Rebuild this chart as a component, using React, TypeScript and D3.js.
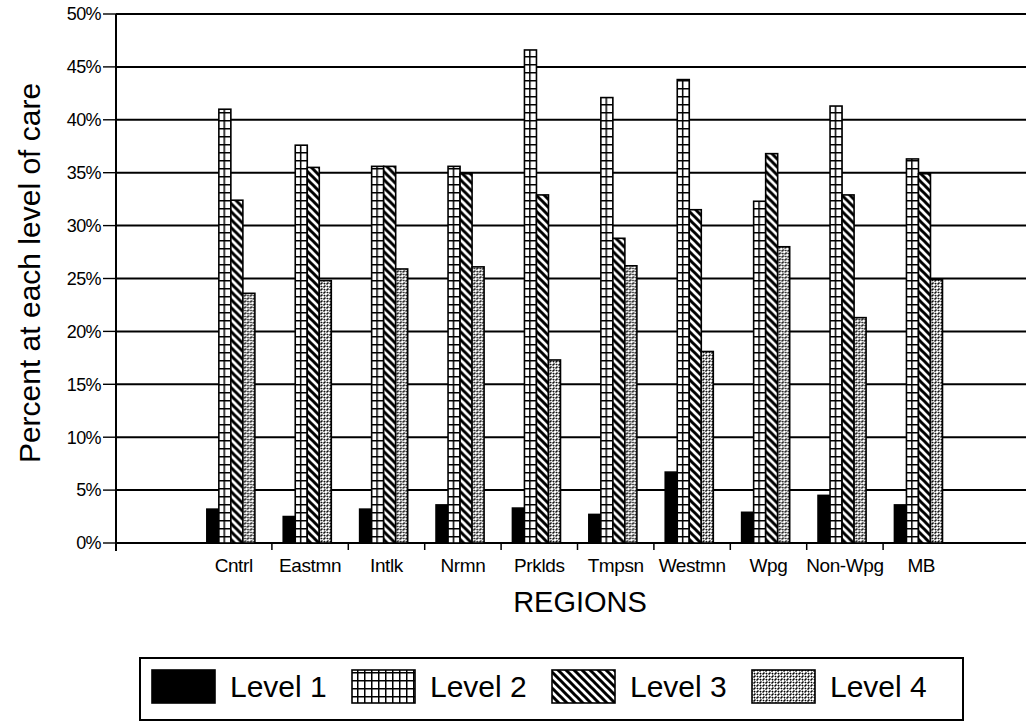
import * as d3 from 'd3'

const regions = ['Cntrl', 'Eastmn', 'Intlk', 'Nrmn', 'Prklds', 'Tmpsn', 'Westmn', 'Wpg', 'Non-Wpg', 'MB']
const levels = ['Level 1', 'Level 2', 'Level 3', 'Level 4']

const level1 = [3.2, 2.5, 3.2, 3.6, 3.3, 2.7, 6.7, 2.9, 4.5, 3.6]
const level2 = [41.0, 37.6, 35.6, 35.6, 46.6, 42.1, 43.8, 32.3, 41.3, 36.3]
const level3 = [32.4, 35.5, 35.6, 34.9, 32.9, 28.8, 31.5, 36.8, 32.9, 34.9]
const level4 = [23.6, 24.8, 25.9, 26.1, 17.3, 26.2, 18.1, 28.0, 21.3, 24.9]
const series = [level1, level2, level3, level4]

const yTicks = [0, 5, 10, 15, 20, 25, 30, 35, 40, 45, 50]

const W = 1026
const H = 723
const FONT = '"Liberation Sans", Arial, Helvetica, sans-serif'
const fills = ['#000', 'url(#p-grid)', 'url(#p-diag)', 'url(#p-dots)']

export default function App() {
  const y = d3.scaleLinear().domain([0, 50]).range([543, 14])
  const x = d3.scaleBand<string>().domain(regions).range([195.5, 959.5]).paddingInner(0).paddingOuter(0)
  const xi = d3.scaleBand<string>().domain(levels).range([0, x.bandwidth()]).paddingOuter(1.18).align(0.4)

  const plotLeft = 116
  const plotRight = W

  return (
    <svg width={W} height={H} style={{ position: 'absolute', left: 0, top: 0, background: '#fff' }} fontFamily={FONT}>
      <defs>
        <pattern id="p-grid" width={7} height={8} patternUnits="userSpaceOnUse">
          <rect width={7} height={8} fill="#fff" />
          <path d="M0,0.75H7M0.75,0V8" stroke="#000" strokeWidth={1.5} />
        </pattern>
        <pattern id="p-diag" width={8} height={8} patternUnits="userSpaceOnUse">
          <rect width={8} height={8} fill="#fff" />
          <path d="M-2,-2L10,10M-2,6L2,10M6,-2L10,2" stroke="#000" strokeWidth={3} />
        </pattern>
        <pattern id="p-dots" width={6} height={6} patternUnits="userSpaceOnUse">
          <rect width={6} height={6} fill="#fff" />
          <path d="M0.5,2.5L2.5,0.5M3.5,5.5L5.5,3.5M3.8,1.2L5.2,2.2M0.8,4L2.2,5" stroke="#000" strokeWidth={1.5} />
        </pattern>
      </defs>

      {/* gridlines */}
      {yTicks.map((t) => (
        <g key={t}>
          <line x1={plotLeft} x2={plotRight} y1={y(t)} y2={y(t)} stroke="#000" strokeWidth={t === 0 ? 2.2 : 2} />
          <line x1={103} x2={plotLeft} y1={y(t)} y2={y(t)} stroke="#000" strokeWidth={1.4} />
          <text x={101} y={y(t)} dy="0.35em" textAnchor="end" fontSize={18} letterSpacing={-0.6}>
            {t}%
          </text>
        </g>
      ))}
      <line x1={plotLeft} x2={plotLeft} y1={y(50)} y2={y(0) + 8} stroke="#000" strokeWidth={2} />

      {/* bars */}
      {regions.map((r, i) => (
        <g key={r} transform={`translate(${x(r)},0)`}>
          {levels.map((l, j) => {
            const v = series[j][i]
            return (
              <rect
                key={l}
                x={xi(l)}
                y={y(v)}
                width={xi.bandwidth()}
                height={y(0) - y(v)}
                fill={fills[j]}
                stroke="#000"
                strokeWidth={1.6}
              />
            )
          })}
        </g>
      ))}

      {/* category ticks */}
      {regions.slice(1).map((r) => (
        <line key={r} x1={x(r)} x2={x(r)} y1={y(0)} y2={y(0) + 7} stroke="#000" strokeWidth={1.5} />
      ))}
      {regions.map((r) => (
        <text key={r} x={(x(r) ?? 0) + x.bandwidth() / 2} y={572} textAnchor="middle" fontSize={19} letterSpacing={-0.4}>
          {r}
        </text>
      ))}

      <text x={580} y={612} textAnchor="middle" fontSize={29}>
        REGIONS
      </text>
      <text transform="translate(40,273) rotate(-90)" textAnchor="middle" fontSize={30}>
        Percent at each level of care
      </text>

      {/* legend */}
      <rect x={140} y={658} width={823} height={62} fill="#fff" stroke="#000" strokeWidth={2} />
      {levels.map((l, j) => {
        const lx = 152 + j * 200
        return (
          <g key={l}>
            <rect x={lx} y={670} width={63} height={33} fill={fills[j]} stroke="#000" strokeWidth={1.6} />
            <text x={lx + 78} y={697} fontSize={30}>
              {l}
            </text>
          </g>
        )
      })}
    </svg>
  )
}
